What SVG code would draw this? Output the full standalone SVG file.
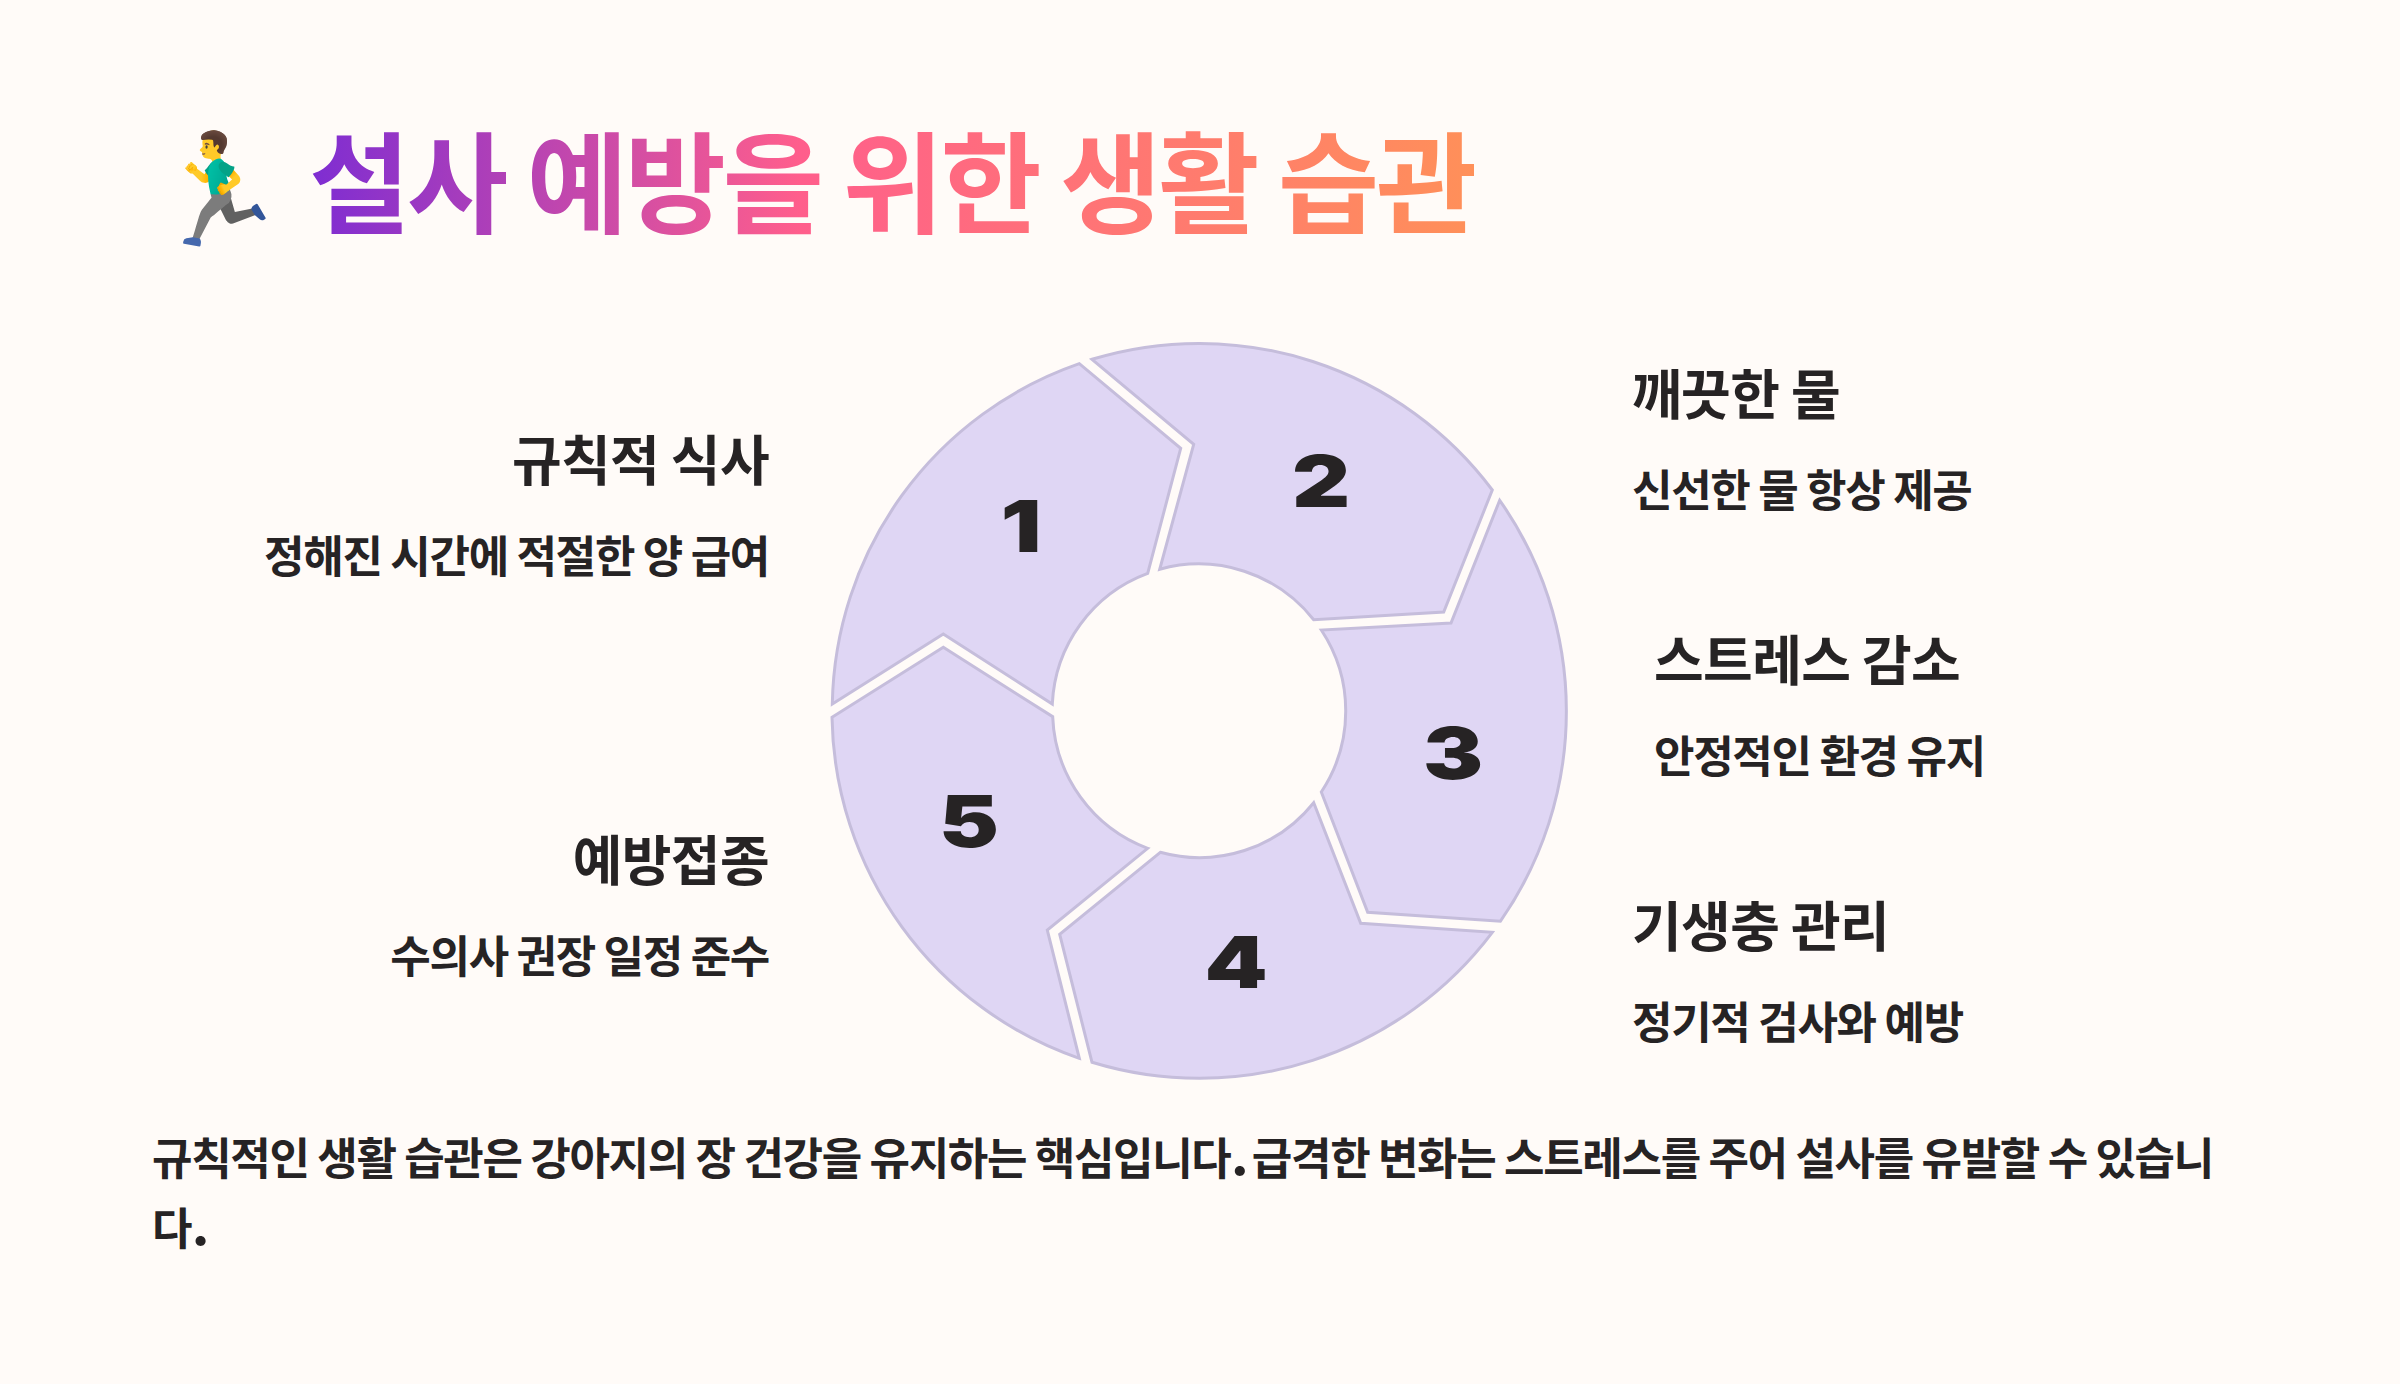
<svg xmlns="http://www.w3.org/2000/svg" width="2400" height="1384" viewBox="0 0 2400 1384">
<style>
text{font-family:"Noto Sans CJK KR","Noto Sans",sans-serif;fill:#262324}
.h{font-size:54px;font-weight:700;letter-spacing:-.6px}
.d{font-size:44px;font-weight:600;letter-spacing:-1.3px}
.e{text-anchor:end}
.n{font-family:"Inter","Liberation Sans",sans-serif;font-size:72px;font-weight:900;text-anchor:middle}
.f{font-size:44px;font-weight:600;letter-spacing:-1.33px}
.p{font-family:"Inter","Liberation Sans",sans-serif;font-weight:900;font-size:50px;letter-spacing:-6px}
.s{fill:#dfd6f4;stroke:#c5bddb;stroke-width:3;stroke-linejoin:miter}
</style>
<defs>
<linearGradient id="g" gradientUnits="userSpaceOnUse" x1="310" y1="190" x2="1475" y2="190">
<stop offset="0" stop-color="#7e2dd2"/><stop offset=".42" stop-color="#ff5e8c"/><stop offset="1" stop-color="#ff9059"/>
</linearGradient>
</defs>
<rect width="2400" height="1384" fill="#fffbf8"/>
<g id="title">
<text x="150" y="227" style="font-family:'Noto Color Emoji',sans-serif;font-size:110px">🏃‍♂️</text>
<text x="309" y="225" style="fill:url(#g);font-size:110px;font-weight:700;letter-spacing:-3.2px">설사 예방을 위한 생활 습관</text>
</g>
<g id="s1"><path class="s" d="M832.3 704A367 367 0 0 1 1079.3 363.7L1180.7 448.3L1147.7 573.3A146.5 146.5 0 0 0 1052.3 704L943.3 634Z"/><text class="n" x="1021" y="552" transform="translate(1021 0) scale(1.25 1) translate(-1021 0)">1</text></g>
<g id="s2"><path class="s" d="M1092 359.3A367 367 0 0 1 1492.3 490L1443.7 612L1313.7 619.7A146.5 146.5 0 0 0 1159.7 569.3L1193.7 444.3Z"/><text class="n" x="1321" y="507" transform="translate(1321 0) scale(1.25 1) translate(-1321 0)">2</text></g>
<g id="s3"><path class="s" d="M1499.7 500.3A367 367 0 0 1 1500.3 921.3L1367.7 912.3L1321.3 792A146.5 146.5 0 0 0 1321.3 630L1451 623Z"/><text class="n" x="1453" y="779" transform="translate(1453 0) scale(1.25 1) translate(-1453 0)">3</text></g>
<g id="s4"><path class="s" d="M1492.3 932.3A367 367 0 0 1 1092 1062.3L1059.7 934.3L1160.3 852.3A146.5 146.5 0 0 0 1313.7 802.7L1360.7 923.3Z"/><text class="n" x="1236" y="988" transform="translate(1236 0) scale(1.25 1) translate(-1236 0)">4</text></g>
<g id="s5"><path class="s" d="M1079.3 1058.3A367 367 0 0 1 832 717.3L943.3 647.3L1052.7 716.7A146.5 146.5 0 0 0 1147.7 848.3L1047.3 930Z"/><text class="n" x="969" y="847" transform="translate(969 0) scale(1.25 1) translate(-969 0)">5</text></g>
<g id="l1"><text class="h e" x="769" y="481">규칙적 식사</text><text class="d e" x="769" y="573">정해진 시간에 적절한 양 급여</text></g>
<g id="l2"><text class="h" x="1632" y="415">깨끗한 물</text><text class="d" x="1632" y="507">신선한 물 항상 제공</text></g>
<g id="l3"><text class="h" x="1654" y="681">스트레스 감소</text><text class="d" x="1654" y="773">안정적인 환경 유지</text></g>
<g id="l4"><text class="h" x="1632" y="947">기생충 관리</text><text class="d" x="1632" y="1039">정기적 검사와 예방</text></g>
<g id="l5"><text class="h e" x="769" y="881">예방접종</text><text class="d e" x="769" y="973">수의사 권장 일정 준수</text></g>
<g id="footer"><text class="f" x="152" y="1175">규칙적인 생활 습관은 강아지의 장 건강을 유지하는 핵심입니다<tspan class="p">.</tspan> 급격한 변화는 스트레스를 주어 설사를 유발할 수 있습니</text><text class="f" x="152" y="1245">다<tspan class="p">.</tspan></text></g>
</svg>
